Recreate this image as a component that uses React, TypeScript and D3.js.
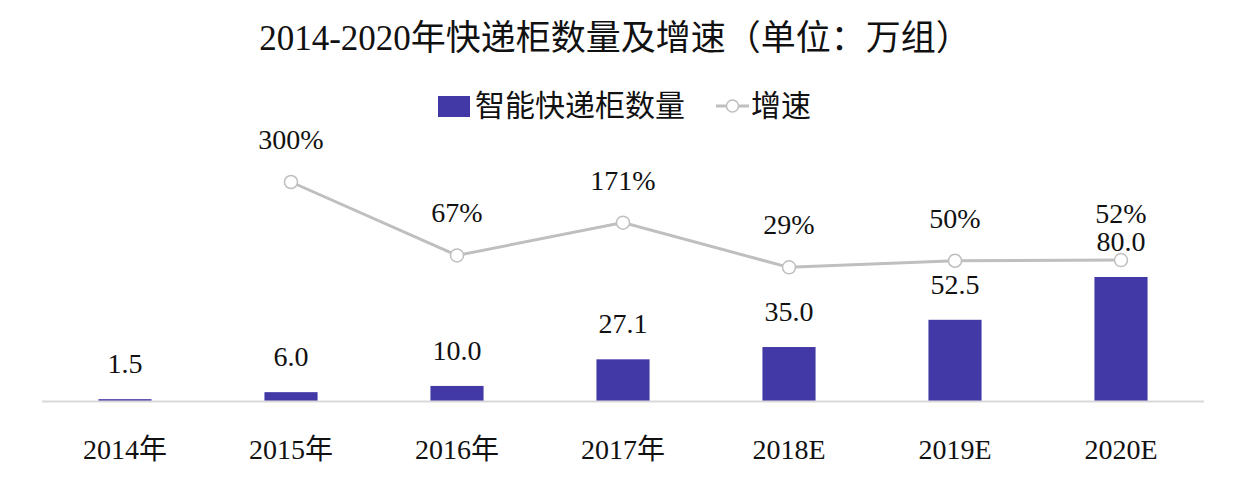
import React from "react";
import * as d3 from "d3";

const categories: string[] = ["2014年", "2015年", "2016年", "2017年", "2018E", "2019E", "2020E"];
const cabinetCounts: number[] = [1.5, 6.0, 10.0, 27.1, 35.0, 52.5, 80.0];
const growthRates: (number | null)[] = [null, 300, 67, 171, 29, 50, 52];

const TITLE = "2014-2020年快递柜数量及增速（单位：万组）";
const LEGEND_BAR = "智能快递柜数量";
const LEGEND_LINE = "增速";

const W = 1260;
const H = 500;
const BAR_COLOR = "#4339a6";
const LINE_COLOR = "#bfbfbf";
const FONT = "'Liberation Serif', 'Times New Roman', 'Noto Sans CJK SC', serif";

export default function App() {
  const x = d3
    .scaleBand<string>()
    .domain(categories)
    .range([42, 1204])
    .paddingInner(0.68)
    .paddingOuter(0.34);

  const y = d3.scaleLinear().domain([0, 80]).range([401.5, 277]);
  const y2 = d3.scaleLinear().domain([0, 300]).range([276.5, 182]);

  const linePts = categories
    .map((c, i) => ({ c, i, v: growthRates[i] }))
    .filter((d) => d.v !== null) as { c: string; i: number; v: number }[];

  const cx = (c: string) => (x(c) as number) + x.bandwidth() / 2;
  const barLabelY = (i: number) => y(cabinetCounts[i]) - 26;

  const lineGen = d3
    .line<{ c: string; v: number }>()
    .x((d) => cx(d.c))
    .y((d) => y2(d.v));

  return (
    <svg
      width={W}
      height={H}
      style={{ position: "absolute", left: 0, top: 0, display: "block", background: "#fff" }}
      fontFamily={FONT}
    >
      <rect x={0} y={0} width={W} height={H} fill="#fff" />
      {/* Title */}
      <text x={615} y={50} textAnchor="middle" fontSize={35} fill="#111">
        {TITLE}
      </text>

      {/* Legend */}
      <g>
        <rect x={438} y={96} width={32} height={21} fill={BAR_COLOR} />
        <text x={475} y={116} fontSize={30} fill="#111">
          {LEGEND_BAR}
        </text>
        <line x1={716} x2={749} y1={106} y2={106} stroke={LINE_COLOR} strokeWidth={3} />
        <circle cx={732.5} cy={106} r={6} fill="#fff" stroke={LINE_COLOR} strokeWidth={1.5} />
        <text x={751} y={116} fontSize={30} fill="#111">
          {LEGEND_LINE}
        </text>
      </g>

      {/* Bars */}
      {categories.map((c, i) => (
        <rect
          key={"b" + c}
          x={x(c)}
          y={y(cabinetCounts[i])}
          width={x.bandwidth()}
          height={y(0) - y(cabinetCounts[i])}
          fill={BAR_COLOR}
        />
      ))}

      {/* Axis line */}
      <line x1={42} x2={1204} y1={y(0)} y2={y(0)} stroke="#d9d9d9" strokeWidth={2} />

      {/* Category labels */}
      {categories.map((c) => (
        <text key={"t" + c} x={cx(c)} y={459} textAnchor="middle" fontSize={28} fill="#111">
          {c}
        </text>
      ))}

      {/* Bar value labels */}
      {categories.map((c, i) => (
        <text
          key={"v" + c}
          x={cx(c)}
          y={barLabelY(i)}
          textAnchor="middle"
          fontSize={28}
          fill="#111"
        >
          {cabinetCounts[i].toFixed(1)}
        </text>
      ))}

      {/* Growth line */}
      <path d={lineGen(linePts) || ""} fill="none" stroke={LINE_COLOR} strokeWidth={3} />
      {linePts.map((d) => (
        <circle
          key={"p" + d.c}
          cx={cx(d.c)}
          cy={y2(d.v)}
          r={6.5}
          fill="#fff"
          stroke={LINE_COLOR}
          strokeWidth={1.5}
        />
      ))}
      {linePts.map((d) => (
        <text
          key={"l" + d.c}
          x={cx(d.c)}
          y={Math.min(y2(d.v) - 33, barLabelY(d.i) - 28)}
          textAnchor="middle"
          fontSize={28}
          fill="#111"
        >
          {d.v + "%"}
        </text>
      ))}
    </svg>
  );
}
